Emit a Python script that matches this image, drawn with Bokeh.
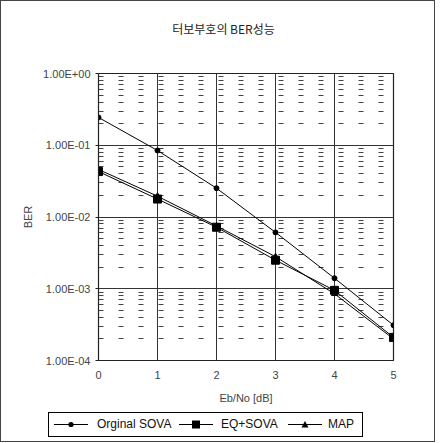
from bokeh.plotting import figure
from bokeh.models import FixedTicker, Range1d, Div
from bokeh.layouts import column
from bokeh.embed import file_html
from bokeh.resources import INLINE

ebno = [0, 1, 2, 3, 4, 5]
orig_sova = [0.244, 0.0845, 0.0252, 0.0061, 0.0014, 0.00031]
eq_sova = [0.043, 0.0178, 0.0072, 0.0025, 0.00095, 0.00021]
map_ber = [0.046, 0.0195, 0.0075, 0.0028, 0.00085, 0.00020]

y_ticks = [1e-4, 1e-3, 1e-2, 1e-1, 1.0]
y_tick_labels = ["1.00E-04", "1.00E-03", "1.00E-02", "1.00E-01", "1.00E+00"]
y_minor = [m * 10.0 ** e for e in range(-4, 0) for m in range(2, 10)]
x_ticks = [0, 1, 2, 3, 4, 5]

title_text = "터보부호의 BER성능"
labels = ["Orginal SOVA", "EQ+SOVA", "MAP"]

FONT = "Liberation Sans"
W = 433

title_div = Div(
    text=("<div style=\"width:433px;height:36px;box-sizing:border-box;"
          "padding-top:19px;padding-left:12px;text-align:center;"
          "font-family:'Noto Sans CJK KR';font-size:12px;line-height:17px;color:#222;\">"
          + title_text + "</div>"),
    width=W, height=36, margin=0)

p = figure(frame_width=295, frame_height=287, y_axis_type="log",
           x_range=Range1d(0, 5), y_range=Range1d(1e-4, 1.0),
           output_backend="svg", toolbar_location=None, title=None,
           min_border_left=97, min_border_right=W - 97 - 295,
           min_border_top=36, min_border_bottom=47)

p.outline_line_color = "#222222"
p.outline_line_width = 1.2

# y axis
p.yaxis.ticker = FixedTicker(ticks=y_ticks, minor_ticks=y_minor)
p.yaxis.major_label_overrides = {t: l for t, l in zip(y_ticks, y_tick_labels)}
p.yaxis.axis_label = "BER"
p.yaxis.axis_label_text_font = FONT
p.yaxis.axis_label_text_font_size = "11px"
p.yaxis.axis_label_text_font_style = "normal"
p.yaxis.axis_label_standoff = 6
p.yaxis.major_label_text_font = FONT
p.yaxis.major_label_text_font_size = "11px"
p.yaxis.major_label_standoff = 5
p.yaxis.major_tick_out = 3
p.yaxis.major_tick_in = 0
p.yaxis.minor_tick_out = 0
p.yaxis.minor_tick_in = 0
p.yaxis.axis_line_color = "#222222"
p.yaxis.major_tick_line_color = "#222222"

# x axis
p.xaxis.ticker = FixedTicker(ticks=x_ticks)
p.xaxis.axis_label = "Eb/No [dB]"
p.xaxis.axis_label_text_font = FONT
p.xaxis.axis_label_text_font_size = "11px"
p.xaxis.axis_label_text_font_style = "normal"
p.xaxis.axis_label_standoff = 10
p.xaxis.major_label_text_font = FONT
p.xaxis.major_label_text_font_size = "11px"
p.xaxis.major_label_standoff = 10
p.xaxis.major_tick_out = 0
p.xaxis.major_tick_in = 0
p.xaxis.minor_tick_out = 0
p.xaxis.minor_tick_in = 0
p.xaxis.axis_line_color = "#222222"

# grids
p.xgrid.grid_line_color = "#333333"
p.xgrid.grid_line_width = 1
p.ygrid.grid_line_color = "#333333"
p.ygrid.grid_line_width = 1
p.ygrid.minor_grid_line_color = "#444444"
p.ygrid.minor_grid_line_width = 1
p.ygrid.minor_grid_line_dash = "5 15"

series = [orig_sova, eq_sova, map_ber]
markers = ["circle", "square", "triangle"]
sizes = [5, 8, 6]
for ys, mk, sz in zip(series, markers, sizes):
    p.line(ebno, ys, line_color="black", line_width=1)
    p.scatter(ebno, ys, marker=mk, size=sz, fill_color="black", line_color="black")

# legend strip (HTML keys)
key_shapes = {
    "circle": '<circle cx="17" cy="11.5" r="2.6" fill="black"/>',
    "square": '<rect x="13" y="7.5" width="8" height="8" fill="black"/>',
    "triangle": '<polygon points="17,8 20.5,14.5 13.5,14.5" fill="black"/>',
}
glyph_left = [5, 130, 239]
label_left = [48, 172, 279]
parts = []
for lab, mk, gl, ll in zip(labels, markers, glyph_left, label_left):
    parts.append(
        f'<svg width="34" height="23" style="position:absolute;left:{gl}px;top:0px">'
        f'<line x1="0" y1="11.5" x2="34" y2="11.5" stroke="black" stroke-width="1"/>'
        f'{key_shapes[mk]}</svg>'
        f'<span style="position:absolute;left:{ll}px;top:0px;line-height:23px;white-space:nowrap">{lab}</span>'
    )
legend_html = (
    '<div style="position:relative;width:433px;height:34px;">'
    '<div style="position:absolute;left:47px;top:5px;width:315px;height:25px;'
    'border:1px solid black;box-sizing:border-box;background:white;'
    "font-family:'Liberation Sans';font-size:12px;color:#111;\">"
    + "".join(parts) + "</div></div>"
)
legend_div = Div(text=legend_html, width=W, height=34, margin=0)

layout = column(title_div, p, legend_div, spacing=0,
                styles={"border": "1px solid #444", "background": "white"})

open("out.html", "w").write(file_html(layout, INLINE))
